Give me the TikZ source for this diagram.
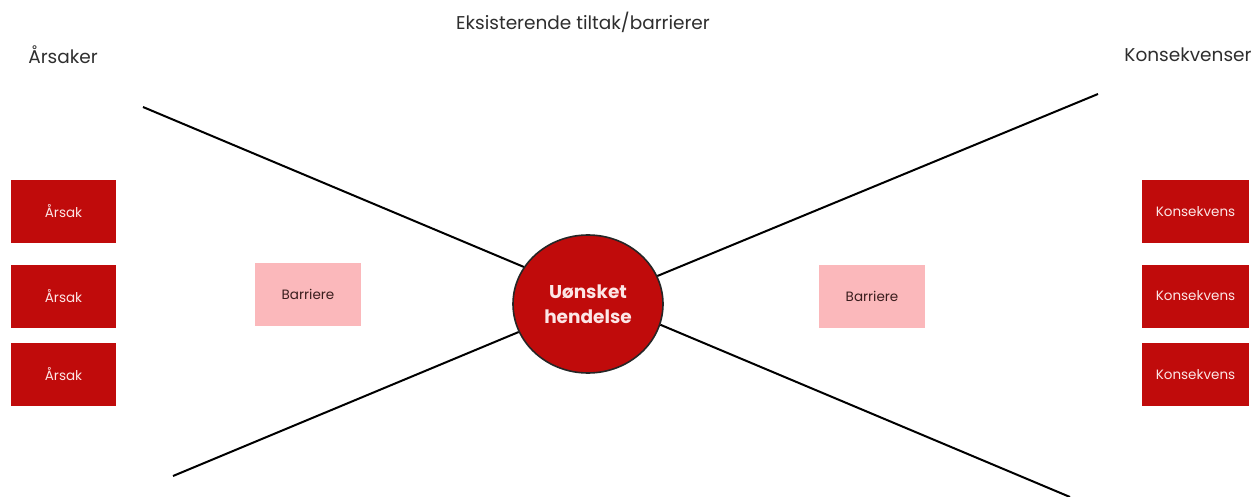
\documentclass[tikz,border=0pt]{standalone}
\usepackage{fontspec}
\setmainfont{Poppins}
\usetikzlibrary{shapes.geometric}
\definecolor{dred}{HTML}{C00B0B}
\definecolor{pinkb}{HTML}{FBB8BB}
\definecolor{boxtxt}{HTML}{FCE6E6}
\definecolor{headtxt}{HTML}{2E2E2E}
\definecolor{bartxt}{HTML}{3A1E1E}
\tikzset{
  redbox/.style={fill=dred, draw=none, minimum width=105pt, minimum height=63pt, inner sep=0pt, text=boxtxt, font=\fontsize{13.5}{16}\selectfont},
  barbox/.style={fill=pinkb, draw=none, minimum width=106pt, minimum height=63pt, inner sep=0pt, text=bartxt, font=\fontsize{13.5}{16}\selectfont},
  heading/.style={text=headtxt, inner sep=0pt, font=\fontsize{18.5}{22}\selectfont},
  event/.style={ellipse, fill=dred, draw=black!85, line width=1.6pt, minimum width=150pt, minimum height=138pt, inner sep=0pt, text=boxtxt, align=center, font=\bfseries\fontsize{18.5}{25}\selectfont},
  bowline/.style={line width=2pt, black}
}
\begin{document}
\begin{tikzpicture}[x=1pt, y=-1pt]
\useasboundingbox (0,0) rectangle (1258,497);
\node[heading] (hA) at (63,55) {Årsaker};
\node[heading] (hK) at (1188,55) {Konsekvenser};
\node[heading] (hE) at (583,22) {Eksisterende tiltak/barrierer};
\node[redbox] (a1) at (63.5,211.5) {Årsak};
\node[redbox] (a2) at (63.5,296) {Årsak};
\node[redbox] (a3) at (63.5,374.5) {Årsak};
\node[redbox, minimum width=107pt] (k1) at (1195.5,211.5) {Konsekvens};
\node[redbox, minimum width=107pt] (k2) at (1195.5,296) {Konsekvens};
\node[redbox, minimum width=107pt] (k3) at (1195.5,374.5) {Konsekvens};
\node[barbox] (b1) at (308,294.5) {Barriere};
\node[barbox] (b2) at (872,296) {Barriere};
\coordinate (tl) at (143,107);
\coordinate (bl) at (173,476);
\coordinate (tr) at (1098,94);
\coordinate (br) at (1070,497);
\node[event] (ev) at (588,304) {Uønsket\\hendelse};
\draw[bowline] (tl) -- (ev.150);
\draw[bowline] (bl) -- (ev.202);
\draw[bowline] (tr) -- (ev.22);
\draw[bowline] (br) -- (ev.344);
\end{tikzpicture}
\end{document}
